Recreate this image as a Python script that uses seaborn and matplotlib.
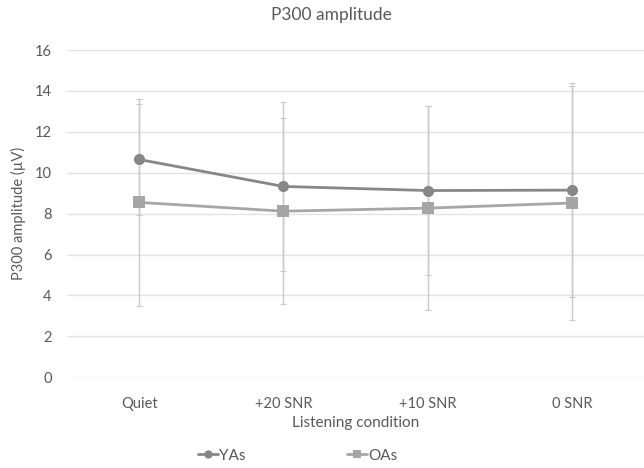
import pandas as pd
import numpy as np
import matplotlib.pyplot as plt
import seaborn as sns

# Veriler
conditions = ["Quiet", "+20 SNR", "+10 SNR", "0 SNR"]
ya_mean = [10.65, 9.33, 9.13, 9.15]
ya_sd = [2.70, 4.14, 4.14, 5.25]
oa_mean = [8.55, 8.12, 8.27, 8.52]
oa_sd = [5.05, 4.55, 5.00, 5.72]

df = pd.DataFrame({
    "condition": conditions * 2,
    "amplitude": ya_mean + oa_mean,
    "group": ["YAs"] * 4 + ["OAs"] * 4,
})

sns.set_style("white")
plt.rcParams['font.family'] = ['Lato', 'DejaVu Sans']
text_col = "#595959"

fig = plt.figure(figsize=(6.44, 4.68), dpi=100)
ax = fig.add_axes([0.104, 0.194, 0.896, 0.699])

colors = {"YAs": "#878787", "OAs": "#a6a6a6"}
markers = {"YAs": "o", "OAs": "s"}

# Hata çubukları
xpos = np.arange(len(conditions))
for g, m, s in [("YAs", ya_mean, ya_sd), ("OAs", oa_mean, oa_sd)]:
    ax.errorbar(xpos, m, yerr=s, fmt="none", ecolor="#c9c9c9", elinewidth=1,
                capsize=2.5, capthick=0.8, zorder=1)

sns.lineplot(data=df, x="condition", y="amplitude", hue="group", style="group",
             palette=colors, markers=markers, dashes=False, markersize=8,
             linewidth=2, markeredgewidth=0, sort=False, ax=ax, zorder=3)

ax.set_xlim(-0.5, 3.5)
ax.set_ylim(0, 16)
ax.set_yticks(range(0, 17, 2))
ax.yaxis.grid(True, color="#e3e3e3", linewidth=1)
ax.set_axisbelow(True)
for sp in ax.spines.values():
    sp.set_visible(False)
ax.tick_params(axis="x", length=0, colors=text_col, labelsize=10.5, pad=14)
ax.tick_params(axis="y", length=0, colors=text_col, labelsize=10.5, pad=11)

fig.suptitle("P300 amplitude", color=text_col, fontsize=12.5, x=0.515, y=0.985)
ax.set_xlabel("Listening condition", color=text_col, fontsize=11, labelpad=4)
ax.set_ylabel("P300 amplitude (\u00b5V)", color=text_col, fontsize=10.5, labelpad=6)

handles, labels = ax.get_legend_handles_labels()
leg = ax.legend(handles, labels, loc="center", bbox_to_anchor=(0.40, -0.24),
                ncol=2, frameon=False, fontsize=11, columnspacing=6.6,
                handlelength=1.3, handletextpad=0.1, labelcolor=text_col)
for h in leg.legend_handles:
    h.set_markersize(6)

plt.savefig("out.png", dpi=100)
